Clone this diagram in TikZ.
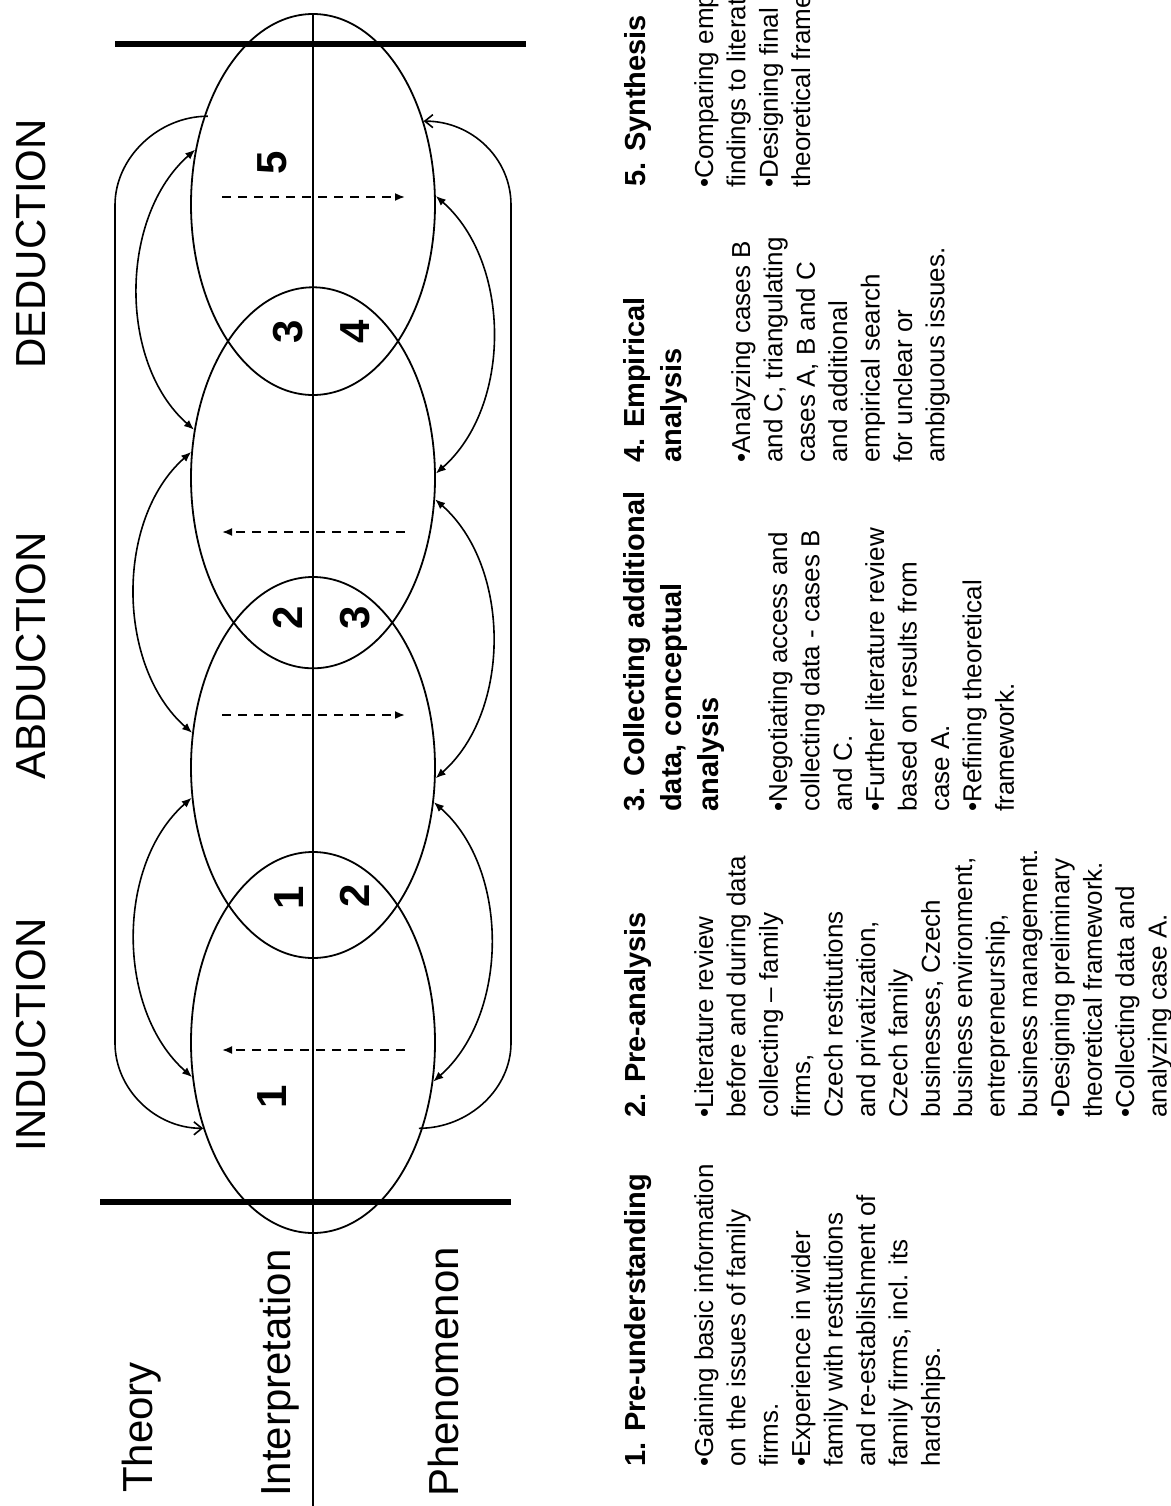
\documentclass[tikz,border=0pt]{standalone}
\usepackage{fontspec}
\setmainfont{Liberation Sans}
\usetikzlibrary{shapes.geometric,arrows.meta,calc}

\newcommand\stagehead{\fontsize{29}{37}\selectfont\bfseries}
\newcommand\stagebody{\fontsize{26}{32.4}\selectfont}

\begin{document}
\begin{tikzpicture}[x=1pt,y=-1pt,
  phase/.style={ellipse, draw, line width=1.8pt, minimum width=244pt, minimum height=381pt, inner sep=0pt},
  axis/.style={line width=1.8pt},
  bar/.style={line width=6.5pt},
  loop/.style={line width=1.6pt, -{Straight Barb[length=8pt,width=13pt]}},
  link/.style={line width=1.6pt, {Latex[length=10pt,width=8pt]}-{Latex[length=10pt,width=8pt]}},
  drift/.style={line width=1.8pt, dash pattern=on 9pt off 7pt, -{Latex[length=10pt,width=8pt]}},
  num/.style={rotate=90, font=\fontsize{42}{42}\selectfont\bfseries, inner sep=0pt},
  mode/.style={rotate=90, anchor=base, font=\fontsize{42}{50}\selectfont, inner sep=0pt},
  level/.style={rotate=90, anchor=base west, font=\fontsize{42}{50}\selectfont, inner sep=0pt},
  textcol/.style={rotate=90, anchor=base west, inner sep=0pt},
]
\useasboundingbox (0,0) rectangle (1170,1506);
\fill[white] (0,0) rectangle (1170,1506);
\clip (0,0) rectangle (1170,1506);

% the four overlapping phases of the spiral
\node[phase] (eA) at (313,204.5) {};
\node[phase] (eB) at (313,477.8) {};
\node[phase] (eC) at (313,767.5) {};
\node[phase] (eD) at (313,1042.5) {};

% interpretation axis and the two boundary bars
\coordinate (axtop) at (313,14);
\coordinate (axbot) at (313,1506);
\draw[axis] (axtop) -- (axbot);
\coordinate (bt1) at (115,44);
\coordinate (bt2) at (526,44);
\coordinate (bb1) at (100,1202);
\coordinate (bb2) at (511,1202);
\draw[bar] (bt1) -- (bt2);
\draw[bar] (bb1) -- (bb2);

% outer loops
\coordinate (lt) at (115,205);
\coordinate (lb) at (115,1043);
\coordinate (rt) at (511,205);
\coordinate (rb) at (511,1043);
\draw[loop] ([xshift=4pt]eA.141) .. controls +(-50,0) and +(0,-47) .. (lt)
  -- (lb) .. controls +(0,46) and +(-48,0) .. (eD.218);
\draw[loop] ([xshift=-4pt]eD.322) .. controls +(50,0) and +(0,46) .. (rb)
  -- (rt) .. controls +(0,-47) and +(48,0) .. (eA.37);

% links between neighbouring phases, theory side
\draw[link] (eA.155) .. controls +(-76,67) and +(-76,-67) .. (eB.158);
\draw[link] (eB.168) .. controls +(-76,67) and +(-76,-67) .. (eC.164);
\draw[link] (eC.194) .. controls +(-76,67) and +(-76,-67) .. (eD.196);

% links between neighbouring phases, phenomenon side
\draw[link] (eA.4) .. controls +(76,67) and +(76,-67) .. (eB.2);
\draw[link] (eB.350) .. controls +(76,67) and +(76,-67) .. (eC.355);
\draw[link] (eC.344) .. controls +(76,67) and +(76,-67) .. (eD.342);

% direction of reasoning inside each phase
\coordinate (dA1) at (222,197);  \coordinate (dA2) at (405,197);
\coordinate (dB1) at (405,532);  \coordinate (dB2) at (222,532);
\coordinate (dC1) at (222,715);  \coordinate (dC2) at (405,715);
\coordinate (dD1) at (405,1050); \coordinate (dD2) at (222,1050);
\draw[drift] (dA1) -- (dA2);
\draw[drift] (dB1) -- (dB2);
\draw[drift] (dC1) -- (dC2);
\draw[drift] (dD1) -- (dD2);

% stage numbers
\node[num] (n5)  at (272,163) {5};
\node[num] (n3a) at (288,332) {3};
\node[num] (n4)  at (355,332) {4};
\node[num] (n2a) at (288,618) {2};
\node[num] (n3b) at (355,618) {3};
\node[num] (n1a) at (289,898) {1};
\node[num] (n2b) at (355,896) {2};
\node[num] (n1b) at (272,1097) {1};

% reasoning modes
\node[mode] (ind) at (45,1035) {INDUCTION};
\node[mode] (abd) at (45,656) {ABDUCTION};
\node[mode] (ded) at (45,244) {DEDUCTION};

% levels
\node[level] (theory) at (152,1493) {Theory};
\node[level] (interp) at (290,1497) {Interpretation};
\node[level] (phen)   at (458,1497) {Phenomenon};

% stage descriptions
\node[textcol] (h1) at (645,1467) {\parbox[t]{500pt}{\stagehead 1. Pre-understanding}};
\node[textcol] (b1) at (713,1467) {\parbox[t]{500pt}{\stagebody
  •Gaining basic information\\on the issues of family\\firms.\\•Experience in wider\\family with restitutions\\and re-establishment of\\family firms, incl. its\\hardships.}};

\node[textcol] (h2) at (645,1118) {\parbox[t]{500pt}{\stagehead 2. Pre-analysis}};
\node[textcol] (b2) at (713,1118) {\parbox[t]{500pt}{\stagebody
  •Literature review\\before and during data\\collecting – family\\firms,\\Czech restitutions\\and privatization,\\Czech family\\businesses, Czech\\business environment,\\entrepreneurship,\\business management.\\•Designing preliminary\\theoretical framework.\\•Collecting data and\\analyzing case A.}};

\node[textcol] (h3) at (644,812) {\parbox[t]{500pt}{\stagehead 3. Collecting additional\\data, conceptual\\analysis}};
\node[textcol] (b3) at (787,812) {\parbox[t]{500pt}{\stagebody
  •Negotiating access and\\collecting data - cases B\\and C.\\•Further literature review\\based on results from\\case A.\\•Refining theoretical\\framework.}};

\node[textcol] (h4) at (644,463) {\parbox[t]{500pt}{\stagehead 4. Empirical\\analysis}};
\node[textcol] (b4) at (750,463) {\parbox[t]{500pt}{\stagebody
  •Analyzing cases B\\and C, triangulating\\cases A, B and C\\and additional\\empirical search\\for unclear or\\ambiguous issues.}};

\node[textcol] (h5) at (645,187) {\parbox[t]{500pt}{\stagehead 5. Synthesis}};
\node[textcol] (b5) at (713,188) {\parbox[t]{500pt}{\stagebody
  •Comparing empirical\\findings to literature\\•Designing final\\theoretical framework.}};
\end{tikzpicture}
\end{document}
